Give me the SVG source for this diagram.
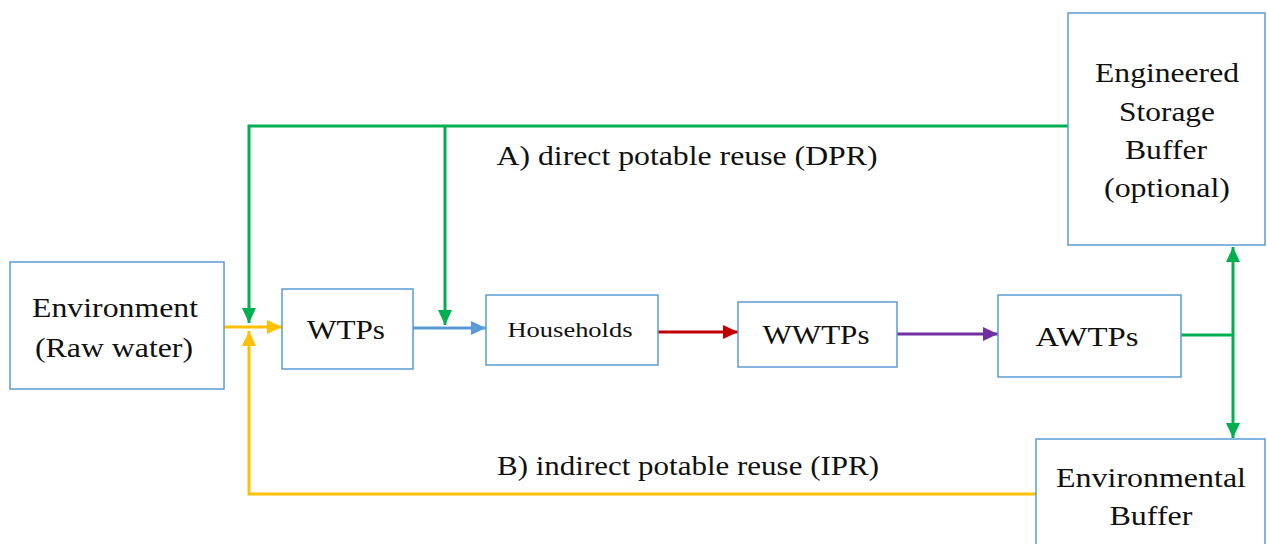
<svg xmlns="http://www.w3.org/2000/svg" width="1267" height="544" viewBox="0 0 1267 544">
<style>
.box{fill:#fff;stroke:#5B9BD5;stroke-width:1.5}
text{font-family:'Liberation Serif','DejaVu Serif',serif;font-size:28px;fill:#111;text-anchor:middle}
.s{font-size:22px}
.c{fill:none;stroke-width:3}
</style>
<defs>
<marker id="ag" markerUnits="userSpaceOnUse" markerWidth="16" markerHeight="14" refX="15" refY="7" orient="auto-start-reverse"><path d="M0,0 L15,7 L0,14 Z" fill="#00B050"/></marker>
<marker id="ao" markerUnits="userSpaceOnUse" markerWidth="16" markerHeight="14" refX="15" refY="7" orient="auto"><path d="M0,0 L15,7 L0,14 Z" fill="#FFC000"/></marker>
<marker id="ab" markerUnits="userSpaceOnUse" markerWidth="16" markerHeight="14" refX="15" refY="7" orient="auto"><path d="M0,0 L15,7 L0,14 Z" fill="#5B9BD5"/></marker>
<marker id="ar" markerUnits="userSpaceOnUse" markerWidth="16" markerHeight="14" refX="15" refY="7" orient="auto"><path d="M0,0 L15,7 L0,14 Z" fill="#C00000"/></marker>
<marker id="ap" markerUnits="userSpaceOnUse" markerWidth="16" markerHeight="14" refX="15" refY="7" orient="auto"><path d="M0,0 L15,7 L0,14 Z" fill="#7030A0"/></marker>
</defs>
<rect width="1267" height="544" fill="#fff"/>
<g id="connectors">
<path class="c" stroke="#00B050" d="M1068,126 H249 V323" marker-end="url(#ag)"/>
<path class="c" stroke="#00B050" d="M445,126 V325" marker-end="url(#ag)"/>
<path class="c" stroke="#FFC000" d="M1036,494 H249 V331" marker-end="url(#ao)"/>
<path class="c" stroke="#FFC000" d="M224,327 H282" marker-end="url(#ao)"/>
<path class="c" stroke="#5B9BD5" d="M413,328 H486" marker-end="url(#ab)"/>
<path class="c" stroke="#C00000" d="M658,332 H738" marker-end="url(#ar)"/>
<path class="c" stroke="#7030A0" d="M897,334 H998" marker-end="url(#ap)"/>
<path class="c" stroke="#00B050" d="M1233,247 V438" marker-start="url(#ag)" marker-end="url(#ag)"/>
<path class="c" stroke="#00B050" d="M1181,335 H1233"/>
<text x="687" y="165" textLength="381" lengthAdjust="spacingAndGlyphs">A) direct potable reuse (DPR)</text>
<text x="688" y="475" textLength="382" lengthAdjust="spacingAndGlyphs">B) indirect potable reuse (IPR)</text>
</g>
<g id="environment">
<rect class="box" x="10" y="262" width="214" height="127"/>
<text x="115" y="317" textLength="166" lengthAdjust="spacingAndGlyphs">Environment</text>
<text x="114" y="357" textLength="158" lengthAdjust="spacingAndGlyphs">(Raw water)</text>
</g>
<g id="wtps">
<rect class="box" x="282" y="289" width="131" height="80"/>
<text x="346" y="339" textLength="78" lengthAdjust="spacingAndGlyphs">WTPs</text>
</g>
<g id="households">
<rect class="box" x="486" y="295" width="172" height="70"/>
<text class="s" x="570" y="337" textLength="125" lengthAdjust="spacingAndGlyphs">Households</text>
</g>
<g id="wwtps">
<rect class="box" x="738" y="302" width="159" height="65"/>
<text x="816" y="344" textLength="107" lengthAdjust="spacingAndGlyphs">WWTPs</text>
</g>
<g id="awtps">
<rect class="box" x="998" y="295" width="183" height="82"/>
<text x="1087" y="346" textLength="103" lengthAdjust="spacingAndGlyphs">AWTPs</text>
</g>
<g id="storage">
<rect class="box" x="1068" y="13" width="197" height="232"/>
<text x="1167" y="82" textLength="144" lengthAdjust="spacingAndGlyphs">Engineered</text>
<text x="1167" y="121" textLength="96" lengthAdjust="spacingAndGlyphs">Storage</text>
<text x="1166" y="159" textLength="82" lengthAdjust="spacingAndGlyphs">Buffer</text>
<text x="1167" y="197" textLength="126" lengthAdjust="spacingAndGlyphs">(optional)</text>
</g>
<g id="envbuffer">
<rect class="box" x="1036" y="439" width="229" height="120"/>
<text x="1151" y="487" textLength="190" lengthAdjust="spacingAndGlyphs">Environmental</text>
<text x="1151" y="525" textLength="83" lengthAdjust="spacingAndGlyphs">Buffer</text>
</g>
</svg>
